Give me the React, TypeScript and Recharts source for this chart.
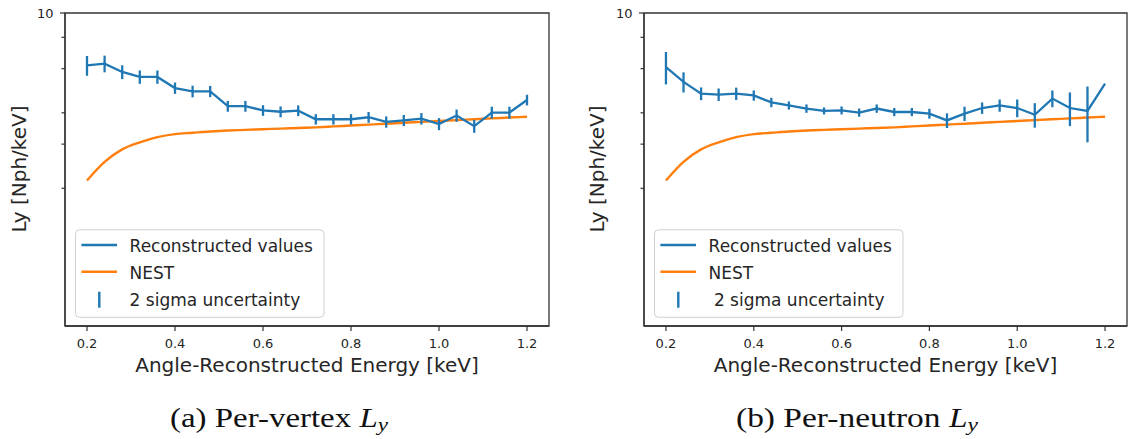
import React from 'react';
import { LineChart, Line, XAxis, YAxis, ErrorBar, ReferenceArea } from 'recharts';

// reconstructed light yield vs angle-reconstructed energy (keV)
const energy = [
  0.2, 0.24, 0.28, 0.32, 0.36, 0.4, 0.44, 0.48, 0.52, 0.56, 0.6, 0.64, 0.68,
  0.72, 0.76, 0.8, 0.84, 0.88, 0.92, 0.96, 1.0, 1.04, 1.08, 1.12, 1.16, 1.2,
];

const vertexLy = [
  6.18, 6.28, 5.82, 5.56, 5.56, 5.02, 4.87, 4.87, 4.25, 4.25, 4.09, 4.04, 4.08,
  3.77, 3.77, 3.77, 3.84, 3.68, 3.73, 3.79, 3.61, 3.9, 3.54, 4.01, 4.01, 4.5,
];
const vertexErr = [
  0.56, 0.48, 0.37, 0.34, 0.34, 0.26, 0.26, 0.25, 0.21, 0.21, 0.2, 0.2, 0.2,
  0.18, 0.18, 0.18, 0.19, 0.19, 0.19, 0.2, 0.2, 0.22, 0.21, 0.22, 0.22, 0.22,
];

const neutronLy = [
  6.09, 5.31, 4.77, 4.73, 4.77, 4.69, 4.4, 4.28, 4.16, 4.07, 4.09, 4.01, 4.16,
  4.03, 4.03, 3.97, 3.73, 3.97, 4.18, 4.28, 4.18, 3.93, 4.56, 4.18, 4.07, 5.23,
];
const neutronErr = [
  0.9, 0.49, 0.28, 0.27, 0.27, 0.22, 0.19, 0.16, 0.16, 0.13, 0.15, 0.15, 0.16,
  0.15, 0.15, 0.18, 0.25, 0.26, 0.22, 0.24, 0.34, 0.44, 0.35, 0.64, 1.02, 0,
];

const nestLy = [
  2.15, 2.55, 2.86, 3.05, 3.2, 3.29, 3.33, 3.37, 3.4, 3.42, 3.44, 3.46, 3.48,
  3.5, 3.53, 3.56, 3.59, 3.62, 3.65, 3.68, 3.71, 3.74, 3.77, 3.8, 3.83, 3.86,
];

const xTicks = [0.2, 0.4, 0.6, 0.8, 1.0, 1.2];
const yTicks = [2, 3, 4, 5, 6, 7, 8, 9, 10];
const xDomain = [0.15, 1.25];
const yDomain = [0.565, 10];
const legendLabels = ['Reconstructed values', 'NEST', '2 sigma uncertainty'];

const BLUE = '#1f77b4';
const ORANGE = '#ff7f0e';
const SPINE = '#333';
const INK = '#262626';
const FONT = '"DejaVu Sans", sans-serif';

const vertexData = energy.map((x, i) => ({ x, ly: vertexLy[i], err: vertexErr[i], nest: nestLy[i] }));
const neutronData = energy.map((x, i) => ({ x, ly: neutronLy[i], err: neutronErr[i], nest: nestLy[i] }));

function XTick(props: any) {
  const { x, y, payload } = props;
  return (
    <g>
      <line x1={x} x2={x} y1={y} y2={y + 5} stroke={SPINE} strokeWidth={1.2} />
      <text x={x} y={y + 22} textAnchor="middle" fontSize={13} fill={INK} fontFamily={FONT}>
        {Number(payload.value).toFixed(1)}
      </text>
    </g>
  );
}

function YTick(props: any) {
  const { x, y, payload } = props;
  const major = payload.value === 10;
  return (
    <g>
      <line x1={x - (major ? 5 : 3.5)} x2={x} y1={y} y2={y} stroke={SPINE} strokeWidth={1.2} />
      {major && (
        <text x={x - 11.5} y={y + 4.7} textAnchor="end" fontSize={13} fill={INK} fontFamily={FONT}>
          10
        </text>
      )}
    </g>
  );
}

function Panel({ data, width, right }: { data: any[]; width: number; right: number }) {
  const spine = { stroke: SPINE, strokeWidth: 1.3 };
  return (
    <LineChart width={width} height={380} data={data} margin={{ top: 13, right, bottom: 0, left: 0 }}>
      <XAxis
        dataKey="x" type="number" domain={xDomain} allowDataOverflow ticks={xTicks}
        height={54} tickSize={0} tickMargin={0} tickLine={false} tick={<XTick />} axisLine={spine}
      />
      <YAxis
        type="number" scale="log" domain={yDomain} allowDataOverflow ticks={yTicks}
        width={65} tickSize={0} tickMargin={0} tickLine={false} tick={<YTick />} axisLine={spine}
      />
      <ReferenceArea
        x1={xDomain[0]} x2={xDomain[1]} y1={yDomain[0]} y2={yDomain[1]}
        fill="none" stroke={SPINE} strokeWidth={1.3} ifOverflow="visible"
      />
      <Line dataKey="nest" type="monotone" stroke={ORANGE} strokeWidth={2.4} dot={false} isAnimationActive={false} />
      <Line dataKey="ly" type="linear" stroke={BLUE} strokeWidth={2.3} dot={false} isAnimationActive={false}>
        <ErrorBar dataKey="err" direction="y" width={0} stroke={BLUE} strokeWidth={2.3} />
      </Line>
    </LineChart>
  );
}

function LegendBox({ left, pad }: { left: number; pad: number }) {
  return (
    <g transform={`translate(${left},229.3)`} fontFamily={FONT} fontSize={17} fill={INK}>
      <rect x={0.5} y={0.5} width={248.5} height={87.5} rx={4} fill="rgba(255,255,255,0.8)" stroke="#d0d0d0" />
      <line x1={6.4} x2={42} y1={15.7} y2={15.7} stroke={BLUE} strokeWidth={2.3} />
      <line x1={6.4} x2={42} y1={42.4} y2={42.4} stroke={ORANGE} strokeWidth={2.4} />
      <line x1={24.3} x2={24.3} y1={62.4} y2={78.4} stroke={BLUE} strokeWidth={2.4} />
      <text x={54.6} y={23}>{legendLabels[0]}</text>
      <text x={54.6} y={49.7}>{legendLabels[1]}</text>
      <text x={54.6 + pad} y={76.5}>{legendLabels[2]}</text>
    </g>
  );
}

export default function App() {
  return (
    <div style={{ position: 'relative', width: 1130, height: 439, background: '#fff', overflow: 'hidden' }}>
      <style>{'body{margin:0}'}</style>
      <div style={{ position: 'absolute', left: 0, top: 0 }}>
        <Panel data={vertexData} width={565} right={16} />
      </div>
      <div style={{ position: 'absolute', left: 579, top: 0 }}>
        <Panel data={neutronData} width={551} right={3} />
      </div>
      <svg width={1130} height={439} style={{ position: 'absolute', left: 0, top: 0, pointerEvents: 'none' }}>
        <g fontFamily={FONT} fontSize={20} fill={INK}>
          <text transform="translate(25.5,169) rotate(-90)" textAnchor="middle">Ly [Nph/keV]</text>
          <text transform="translate(604,169) rotate(-90)" textAnchor="middle">Ly [Nph/keV]</text>
          <text x={307} y={371.5} textAnchor="middle">Angle-Reconstructed Energy [keV]</text>
          <text x={885.5} y={371.5} textAnchor="middle">Angle-Reconstructed Energy [keV]</text>
        </g>
        <LegendBox left={75} pad={0} />
        <LegendBox left={654} pad={5.3} />
        <g fontFamily="'Liberation Serif', 'Times New Roman', serif" fontSize={27} fill="#111">
          <text x={279} y={426.5} textAnchor="middle" textLength={218} lengthAdjust="spacingAndGlyphs">
            (a) Per-vertex <tspan fontStyle="italic">L</tspan>
            <tspan fontStyle="italic" fontSize={19} dy={4}>y</tspan>
          </text>
          <text x={857} y={426.5} textAnchor="middle" textLength={242} lengthAdjust="spacingAndGlyphs">
            (b) Per-neutron <tspan fontStyle="italic">L</tspan>
            <tspan fontStyle="italic" fontSize={19} dy={4}>y</tspan>
          </text>
        </g>
      </svg>
    </div>
  );
}
